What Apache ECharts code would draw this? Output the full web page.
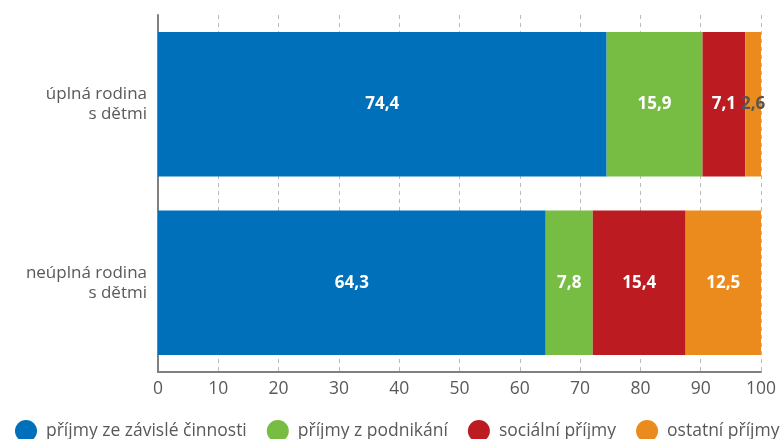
<!DOCTYPE html>
<html><head><meta charset="utf-8">
<script src="https://cdn.jsdelivr.net/npm/echarts@6/dist/echarts.min.js"></script>
<style>html,body{margin:0;padding:0;background:#fff}#c{width:784px;height:439px}</style>
</head><body><div id="c"></div>
<script>
const categories = ['úplná rodina\ns dětmi', 'neúplná rodina\ns dětmi'];
const seriesNames = ['příjmy ze závislé činnosti', 'příjmy z podnikání', 'sociální příjmy', 'ostatní příjmy'];
const zavisla = [74.4, 64.3];
const podnikani = [15.9, 7.8];
const socialni = [7.1, 15.4];
const ostatni = [2.6, 12.5];
const xTicks = [0, 10, 20, 30, 40, 50, 60, 70, 80, 90, 100];

const colors = ['#0070bb', '#77bc43', '#bc1b21', '#ec8b1d'];
const values = [zavisla, podnikani, socialni, ostatni];
const font = '"Open Sans", "Noto Sans", sans-serif';

const chart = echarts.init(document.getElementById('c'));
chart.setOption({
  animation: false,
  textStyle: { fontFamily: font },
  grid: { left: 158, right: 23, top: 15, bottom: 67, containLabel: false },
  legend: {
    top: 420, left: 15,
    padding: 0,
    itemGap: 20,
    icon: 'circle', itemWidth: 22, itemHeight: 22,
    textStyle: { fontSize: 17.5, color: '#595959', fontFamily: font, lineHeight: 22, padding: [0, 0, 0, 4] },
    data: seriesNames
  },
  xAxis: {
    type: 'value', min: 0, max: 100, interval: 10,
    axisLine: { show: true, lineStyle: { color: '#808080', width: 2 } },
    axisTick: { show: false },
    splitLine: { show: true, lineStyle: { color: '#bbbbbb', type: [4, 4] } },
    axisLabel: { fontSize: 17.5, color: '#595959', margin: 8,
      formatter: v => xTicks.includes(v) ? String(v) : '' }
  },
  yAxis: {
    type: 'category', inverse: true, data: categories,
    axisLine: { show: true, lineStyle: { color: '#808080', width: 2 } },
    axisTick: { show: false },
    axisLabel: { fontSize: 17, color: '#595959', margin: 11, lineHeight: 20, align: 'right' }
  },
  series: values.map((d, i) => ({
    name: seriesNames[i], type: 'bar', stack: 'a',
    barCategoryGap: '19%',
    itemStyle: { color: colors[i] },
    label: {
      show: true, position: 'inside',
      fontSize: 17, fontWeight: 'bold', fontFamily: font,
      color: '#fff',
      formatter: p => (p.value < 5 ? '{d|' : '{w|') + String(p.value).replace('.', ',') + '}',
      rich: {
        w: { color: '#fff', fontSize: 17, fontWeight: 'bold', fontFamily: font },
        d: { color: '#555', fontSize: 17, fontWeight: 'bold', fontFamily: font }
      }
    },
    data: d
  }))
});
</script></body></html>
